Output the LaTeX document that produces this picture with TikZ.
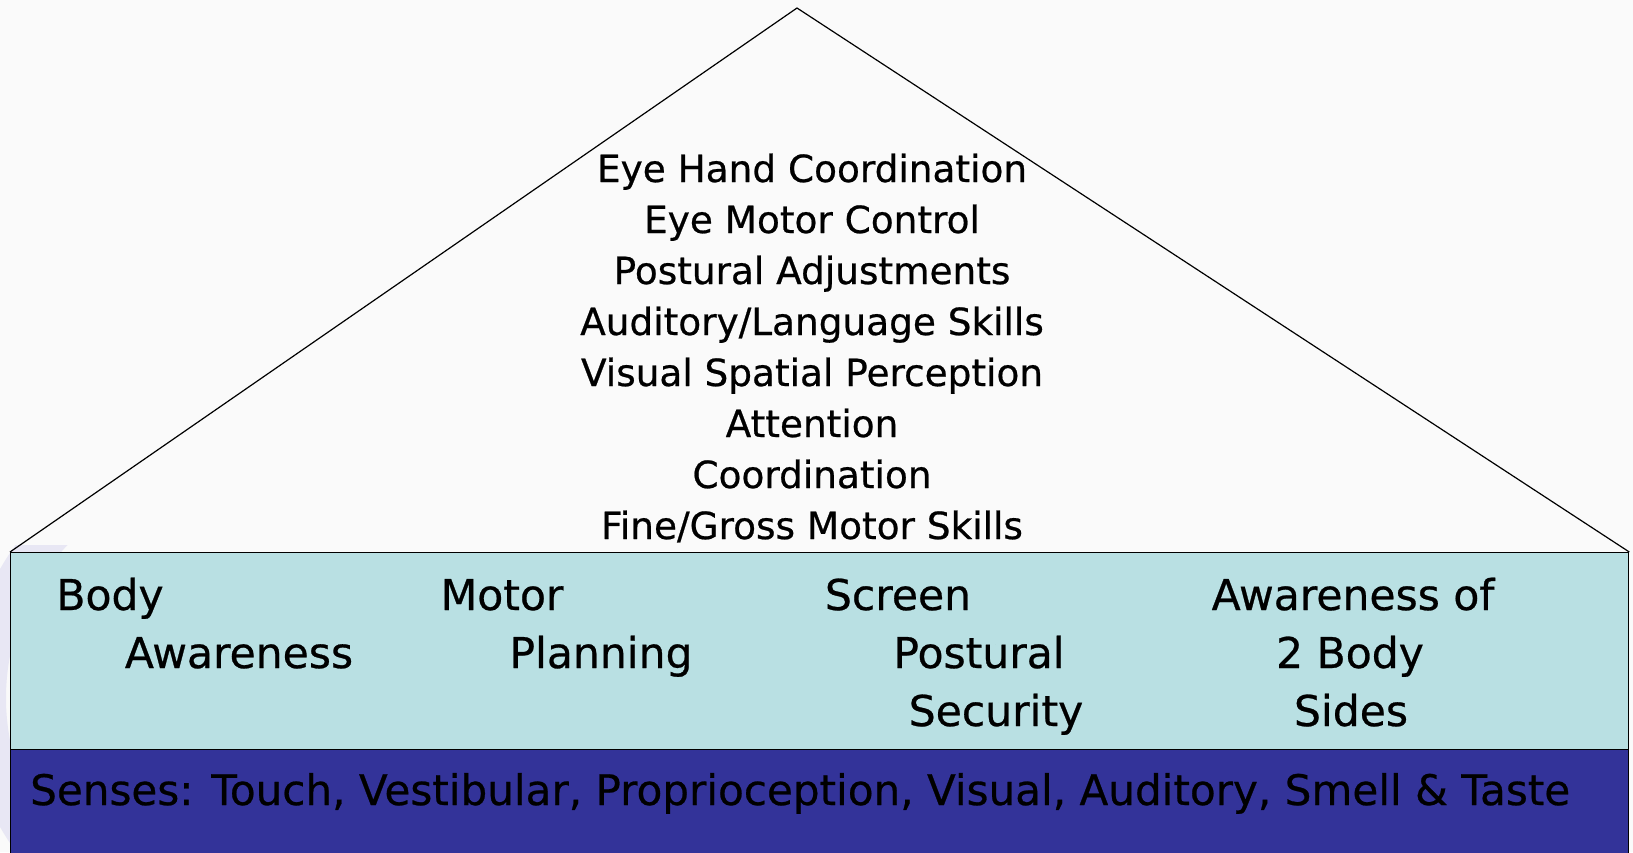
\documentclass[tikz,border=0pt]{standalone}
\usepackage{fontspec}
\setmainfont{DejaVu Sans}[FakeBold=0.6]
\begin{document}
\definecolor{pagebg}{RGB}{250,250,250}
\definecolor{skillblue}{RGB}{185,224,227}
\definecolor{sensenavy}{RGB}{51,51,153}
\definecolor{swirl}{RGB}{232,231,244}
\begin{tikzpicture}[x=1pt,y=-1pt,
  roofline/.style={draw=black,line width=1.2pt,line join=miter},
  band/.style={draw=black,line width=1.3pt,inner sep=0pt,anchor=north west,minimum width=1618pt},
  skilltext/.style={anchor=base,inner sep=0pt,font=\fontsize{37.4}{51}\selectfont},
  basetext/.style={anchor=base,inner sep=0pt,font=\fontsize{42.5}{58}\selectfont},
  sensetext/.style={anchor=base west,inner sep=0pt,font=\fontsize{42.1}{50}\selectfont}]
  % page
  \fill[pagebg] (0,0) rectangle (1633,852);
  \useasboundingbox (0,0) rectangle (1633,852);
  % faint template swirl at the left edge
  \begin{scope}
    \clip (0,545) rectangle (120,852);
    \draw[swirl,line width=40pt] (227,698) circle[radius=241];
  \end{scope}
  % the two bands of the house
  \node[band,fill=skillblue,minimum height=197pt] (mid) at (10,552) {};
  \node[band,fill=sensenavy,minimum height=120pt] (base) at (10,749) {};
  % roof
  \coordinate (apex) at (797,8);
  \draw[roofline] (mid.north west) -- (apex) -- (mid.north east);
  % skills under the roof
  \foreach \txt [count=\i] in {Eye Hand Coordination,Eye Motor Control,
      Postural Adjustments,Auditory/Language Skills,Visual Spatial Perception,
      Attention,Coordination,Fine/Gross Motor Skills}
    \node[skilltext] (roof\i) at (812,{182+51*(\i-1)}) {\txt};
  % foundation skills
  \node[basetext] (bodyA) at (110,610) {Body};
  \node[basetext] (bodyB) at (239,668) {Awareness};
  \node[basetext] (motorA) at (502,610) {Motor};
  \node[basetext] (motorB) at (601,668) {Planning};
  \node[basetext] (screenA) at (898,610) {Screen};
  \node[basetext] (screenB) at (979,668) {Postural};
  \node[basetext] (screenC) at (996,726) {Security};
  \node[basetext] (sidesA) at (1353,610) {Awareness of};
  \node[basetext] (sidesB) at (1350,668) {2 Body};
  \node[basetext] (sidesC) at (1351,726) {Sides};
  % senses
  \node[sensetext] (senses) at (30,805) {Senses: Touch, Vestibular, Proprioception, Visual, Auditory, Smell \& Taste};
\end{tikzpicture}
\end{document}
